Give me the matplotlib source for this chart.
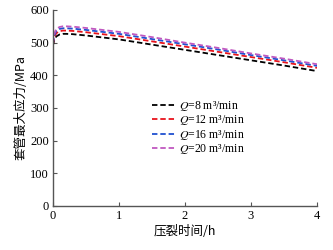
import matplotlib
matplotlib.use("Agg")
import matplotlib.pyplot as plt

plt.rcParams['font.family'] = ['Liberation Serif', 'Noto Sans CJK SC']
plt.rcParams['mathtext.fontset'] = 'stix'

t = [0, 0.02, 0.05, 0.1, 0.15, 0.2, 0.3, 0.5, 1, 1.5, 2, 2.5, 3, 3.5, 4]
q8 = [492, 508, 519, 525, 527, 527, 526, 522, 510, 494, 478, 462, 446, 430, 413]
q12 = [495, 516, 529, 535, 537, 537, 536, 532, 520, 504, 488, 472, 456, 440, 423]
q16 = [497, 522, 536, 542, 544, 544, 543, 539, 527, 511, 495, 479, 462, 446, 429]
q20 = [499, 527, 542, 548, 550, 550, 549, 545, 533, 517, 500, 484, 467, 451, 434]
labels = ['$Q$=8 m³/min', '$Q$=12 m³/min', '$Q$=16 m³/min', '$Q$=20 m³/min']
colors = ['black', '#e8141c', '#2050d0', '#c058c0']

fig = plt.figure(figsize=(3.33, 2.5), dpi=100)
ax = fig.add_axes([0.159, 0.176, 0.793, 0.784])

for y, lab, c in zip([q8, q12, q16, q20], labels, colors):
    ax.plot(t, y, ls=(0, (3, 1.6)), lw=1.3, color=c, label=lab)

ax.set_xlim(0, 4)
ax.set_ylim(0, 600)
ax.set_xticks([0, 1, 2, 3, 4])
ax.set_yticks([0, 100, 200, 300, 400, 500, 600])
ax.spines['top'].set_visible(False)
ax.spines['right'].set_visible(False)
for s in ['left', 'bottom']:
    ax.spines[s].set_color('#555555')
    ax.spines[s].set_linewidth(1.0)
ax.tick_params(direction='in', length=3, width=0.8, color='#555555', labelsize=9, pad=3)

ax.set_xlabel('压裂时间/h', fontsize=9, family=['Noto Sans CJK SC', 'Liberation Serif'], labelpad=2)
ax.set_ylabel('套管最大应力/MPa', fontsize=9, family=['Noto Sans CJK SC', 'Liberation Serif'], labelpad=2)

ax.legend(loc='center', bbox_to_anchor=(0.55, 0.40), frameon=False, fontsize=8.5,
          handlelength=2.0, handletextpad=0.3, labelspacing=0.05)

fig.savefig('out.png', dpi=100)
